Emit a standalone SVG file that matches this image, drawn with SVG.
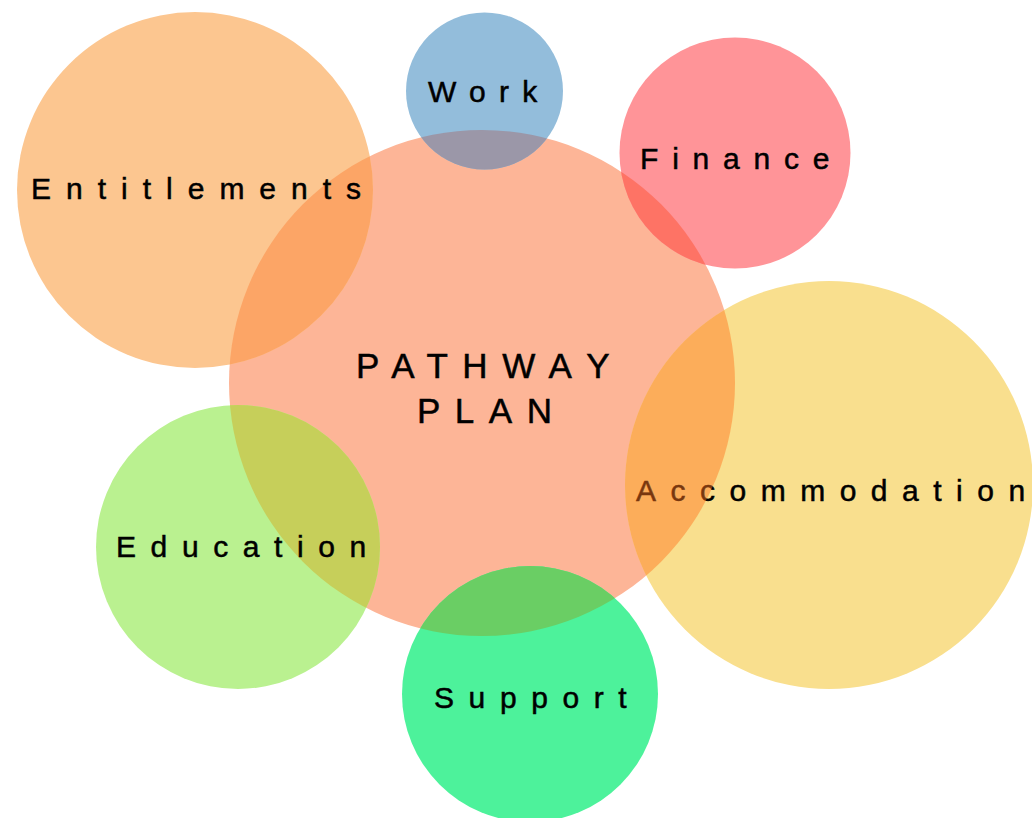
<svg xmlns="http://www.w3.org/2000/svg" width="1032" height="818" viewBox="0 0 1032 818">
<style>
.lbl{font-family:"Liberation Sans",Arial,sans-serif;font-size:30px;letter-spacing:14.6px;fill:#000;stroke:#000;stroke-width:0.5px}
.big{font-size:35px;letter-spacing:14.5px}
.end{letter-spacing:0}
</style>
<defs>
<clipPath id="cc"><circle cx="482" cy="383" r="253"/></clipPath>
</defs>
<rect width="1032" height="818" fill="#fff"/>
<g id="pathway-plan">
<circle cx="482" cy="383" r="253" fill="#FDB597"/>
<text class="lbl big" x="356" y="378">PATHWA<tspan class="end">Y</tspan></text>
<text class="lbl big" x="417" y="423">PLA<tspan class="end">N</tspan></text>
</g>
<g id="accommodation">
<circle cx="829" cy="485" r="204" fill="#F9DF8E"/>
<text class="lbl" x="636" y="501" style="letter-spacing:14.5px">Accommodatio<tspan class="end">n</tspan></text>
<circle cx="829" cy="485" r="204" fill="#FF7520" fill-opacity="0.47" clip-path="url(#cc)"/>
</g>
<g id="work">
<circle cx="484.5" cy="91" r="78.5" fill="#93BDDB"/>
<circle cx="484.5" cy="91" r="78.5" fill="#9B97A8" clip-path="url(#cc)"/>
<text class="lbl" x="428" y="102" style="letter-spacing:13.3px">Wor<tspan class="end">k</tspan></text>
</g>
<g id="finance">
<circle cx="735" cy="153" r="115.5" fill="#FF9498"/>
<circle cx="735" cy="153" r="115.5" fill="#FE7365" clip-path="url(#cc)"/>
<text class="lbl" x="640" y="169" style="letter-spacing:13.8px">Financ<tspan class="end">e</tspan></text>
</g>
<g id="entitlements">
<circle cx="195" cy="190" r="178" fill="#FCC690"/>
<circle cx="195" cy="190" r="178" fill="#FCA566" clip-path="url(#cc)"/>
<text class="lbl" x="31" y="199" style="letter-spacing:15px">Entitlement<tspan class="end">s</tspan></text>
</g>
<g id="education">
<circle cx="238" cy="547" r="142" fill="#BAF190"/>
<circle cx="238" cy="547" r="142" fill="#C6CF5A" clip-path="url(#cc)"/>
<text class="lbl" x="116" y="557">Educatio<tspan class="end">n</tspan></text>
</g>
<g id="support">
<circle cx="530" cy="694" r="128" fill="#4DF29B"/>
<circle cx="530" cy="694" r="128" fill="#6ACE64" clip-path="url(#cc)"/>
<text class="lbl" x="434" y="708">Suppor<tspan class="end">t</tspan></text>
</g>
<g id="connectors"/>
</svg>
